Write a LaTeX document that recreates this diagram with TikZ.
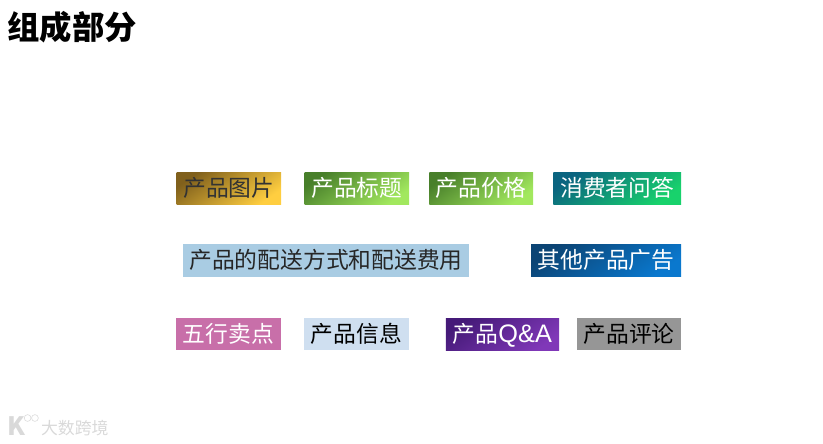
\documentclass[tikz,border=0pt]{standalone}
\usepackage{fontspec}
\setmainfont{Noto Sans CJK SC}
\newfontfamily\latinpart{Liberation Sans}
\usepackage{xcolor}
\usetikzlibrary{positioning}
\definecolor{goldA}{HTML}{80601C}
\definecolor{goldB}{HTML}{FFCE40}
\definecolor{leafA}{HTML}{487F2A}
\definecolor{leafB}{HTML}{A2E85E}
\definecolor{tealA}{HTML}{0A6480}
\definecolor{tealB}{HTML}{18D26C}
\definecolor{navyA}{HTML}{0B4474}
\definecolor{navyB}{HTML}{0A78CE}
\definecolor{plumA}{HTML}{451A78}
\definecolor{plumB}{HTML}{8038B8}
\definecolor{shipblue}{HTML}{A9CCE3}
\definecolor{infoblue}{HTML}{CFDFF0}
\definecolor{sellpink}{HTML}{C86FA9}
\tikzset{
  part/.style={rectangle, minimum height=0.8cm, inner sep=0pt, text height=0.45cm, text depth=0.05cm,
               font=\fontsize{16.2}{18}\selectfont},
  flatpart/.style={part, text=black!85},
  gradpart/.style n args={2}{part, top color=#1, bottom color=#2, shading angle=35, text=white},
  mark text/.style={text=black!15, inner sep=0pt}
}
\begin{document}
\begin{tikzpicture}
  \useasboundingbox (0,0) rectangle (20.575,-11.075);
  \node[inner sep=0pt, font=\fontsize{23}{26}\bfseries\selectfont] (title) at (1.8,-0.68) {组成部分};

  % first row
  \node[gradpart={goldA}{goldB}, minimum width=2.61cm, text=black!80] (pic) at (5.72,-4.7) {产品图片};
  \node[gradpart={leafA}{leafB}, minimum width=2.61cm] (name) at (8.92,-4.7) {产品标题};
  \node[gradpart={leafA}{leafB}, minimum width=2.59cm] (price) at (12.03,-4.7) {产品价格};
  \node[gradpart={tealA}{tealB}, minimum width=3.19cm] (ask) at (15.43,-4.7) {消费者问答};

  % second row
  \node[flatpart, fill=shipblue, minimum width=7.15cm, minimum height=0.82cm] (ship) at (8.15,-6.51) {产品的配送方式和配送费用};
  \node[gradpart={navyA}{navyB}, minimum width=3.75cm, minimum height=0.82cm] (ads) at (15.15,-6.51) {其他产品广告};

  % third row
  \node[part, fill=sellpink, text=white, minimum width=2.61cm] (sell) at (5.71,-8.35) {五行卖点};
  \node[flatpart, fill=infoblue, text=black, minimum width=2.61cm] (info) at (8.91,-8.35) {产品信息};
  \node[gradpart={plumA}{plumB}, minimum width=2.83cm] (qa) at (12.56,-8.35) {产品{\latinpart\fontsize{18}{18}\selectfont Q\&A}};
  \node[flatpart, fill=black!41, text=black, minimum width=2.6cm] (rev) at (15.73,-8.35) {产品评论};

  % watermark
  \node[mark text, font=\fontsize{12}{14}\selectfont] (markname) at (1.87,-10.7) {大数跨境};
  \node[mark text, font=\fontsize{18}{18}\bfseries\selectfont] (markk) at (0.42,-10.66) {K};
  \node[circle, draw=black!15, inner sep=0pt, minimum size=0.17cm] (ringa) at (0.69,-10.45) {};
  \node[circle, draw=black!15, inner sep=0pt, minimum size=0.17cm, right=0cm of ringa] (ringb) {};
\end{tikzpicture}
\end{document}
